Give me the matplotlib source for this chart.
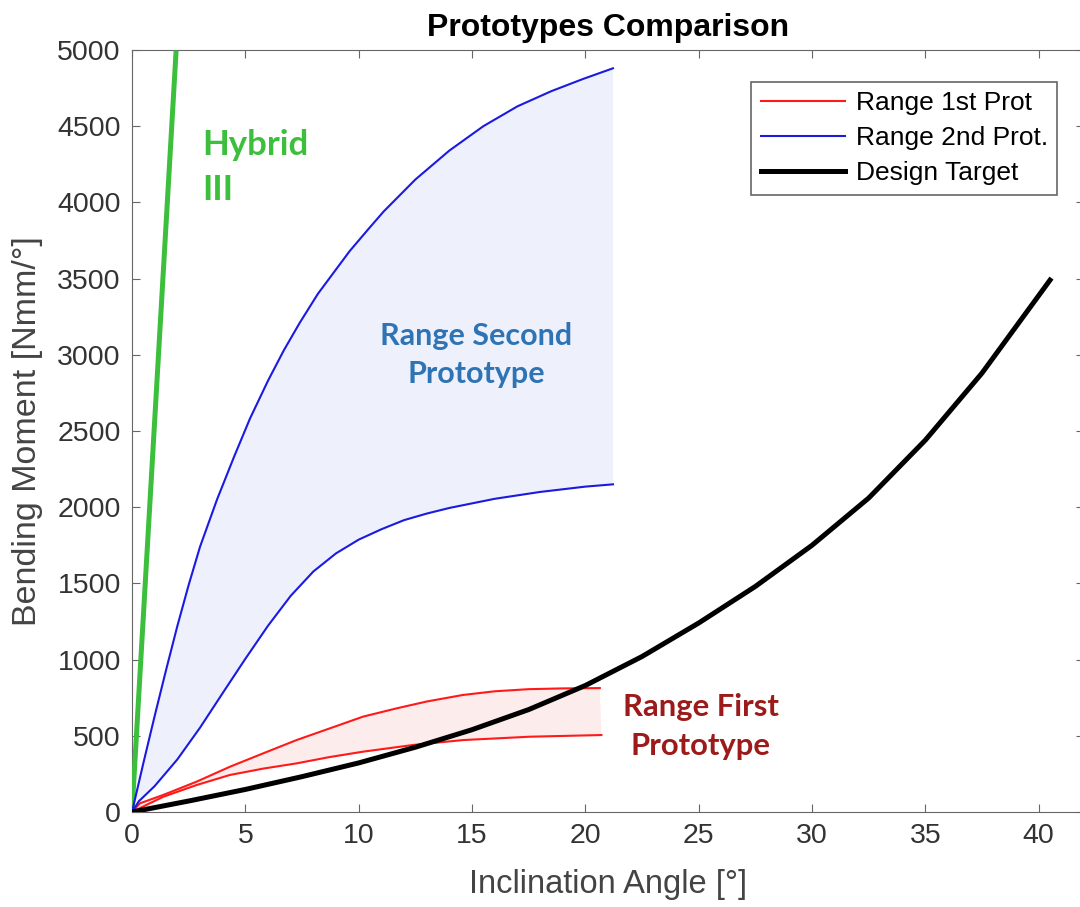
import matplotlib.pyplot as plt

plt.rcParams['font.family'] = ['Liberation Sans', 'DejaVu Sans']

# measured curves (angle in deg, moment in Nmm/deg)
hyb_x = [0, 1.94]
hyb_y = [0, 4980]

p2_hi_x = [0, 0.5, 1, 1.5, 2, 2.5, 3, 3.75, 4.5, 5.2, 6, 6.7, 7.4, 8.2, 9, 9.6, 10.4, 11.1,
           12.5, 14, 15.5, 17, 18.5, 19.9, 21.22]
p2_hi_y = [0, 320, 630, 930, 1220, 1490, 1740, 2050, 2330, 2580, 2830, 3030, 3210, 3400, 3560,
           3680, 3820, 3940, 4150, 4340, 4500, 4630, 4730, 4810, 4880]
p2_lo_x = [0, 0.3, 1, 2, 3, 4, 5, 6, 7, 8, 9, 10, 11, 12, 13, 14, 16, 18, 20, 21.22]
p2_lo_y = [0, 70, 170, 345, 553, 780, 1005, 1222, 1418, 1578, 1697, 1787, 1855, 1915, 1958,
           1995, 2055, 2100, 2135, 2150]

p1_hi_x = [0, 0.35, 1.38, 2.85, 4.32, 5.79, 7.26, 8.73, 10.2, 11.67, 13, 14.6, 16, 17.5, 19, 20.64]
p1_hi_y = [0, 57, 112, 199, 297, 385, 472, 549, 626, 680, 725, 768, 792, 806, 811, 813]
p1_lo_x = [0, 1.38, 2.85, 4.32, 5.8, 7.26, 8.7, 10.2, 12.41, 14.61, 17.55, 20.71]
p1_lo_y = [0, 100, 177, 243, 285, 319, 360, 396, 440, 472, 494, 505]

tgt_x = [0, 2.5, 5, 7.5, 10, 12.5, 15, 17.5, 20, 22.5, 25, 27.5, 30, 32.5, 35, 37.5, 40.5]
tgt_y = [0, 72, 148, 232, 322, 425, 540, 672, 830, 1020, 1240, 1480, 1750, 2060, 2440, 2880, 3490]

fig = plt.figure(figsize=(10.8, 9.07), dpi=100)
ax = fig.add_axes([132/1080, 95/907, 952/1080, 762/907])

# shaded ranges
ax.fill(p2_hi_x + p2_lo_x[::-1], p2_hi_y + p2_lo_y[::-1], color='#eef0fb', lw=0, zorder=1)
ax.fill(p1_hi_x + p1_lo_x[::-1], p1_hi_y + p1_lo_y[::-1], color='#fdecec', lw=0, zorder=1)

ax.plot(hyb_x, hyb_y, color='#3cbf3c', lw=3.6, zorder=3)
ax.plot(p1_hi_x, p1_hi_y, color='#ff1a1a', lw=1.5, zorder=3, label='Range 1st Prot')
ax.plot(p1_lo_x, p1_lo_y, color='#ff1a1a', lw=1.5, zorder=3)
ax.plot(p2_hi_x, p2_hi_y, color='#1a1ae0', lw=1.5, zorder=3, label='Range 2nd Prot.')
ax.plot(p2_lo_x, p2_lo_y, color='#1a1ae0', lw=1.5, zorder=3)
ax.plot(tgt_x, tgt_y, color='black', lw=3.6, zorder=4, label='Design Target')

ax.set_xlim(0, 42)
ax.set_ylim(0, 5000)
ax.set_xticks(range(0, 41, 5))
ax.set_yticks(range(0, 5001, 500))

for s in ax.spines.values():
    s.set_color('#666666')
ax.tick_params(direction='in', length=6, color='#666666', labelsize=20.5,
               labelcolor='#333333', top=True, right=True, pad=8)

ax.set_xlabel('Inclination Angle [°]', fontsize=23.5, color='#444444', labelpad=14)
ax.set_ylabel('Bending Moment [Nmm/°]', fontsize=24.5, color='#444444', labelpad=10)
ax.set_title('Prototypes Comparison', fontsize=23, fontweight='bold', pad=10)

leg = ax.legend(loc='upper right', bbox_to_anchor=(0.9716, 0.958), fontsize=19,
                handlelength=3.2, handletextpad=0.4, labelspacing=0.42,
                borderpad=0.35, borderaxespad=0, fancybox=False, framealpha=1,
                edgecolor='#666666')
leg.get_frame().set_linewidth(1.2)

ax.text(3.1, 4232, 'Hybrid\nIII', color='#3cbf3c', fontsize=25, fontweight='bold',
        family='Lato', ha='left', va='center', linespacing=1.5)
ax.text(15.2, 3000, 'Range Second\nPrototype', color='#2e74b5', fontsize=22,
        fontweight='bold', family='Lato', ha='center', va='center', linespacing=1.45)
ax.text(25.1, 560, 'Range First\nPrototype', color='#9c1a1a', fontsize=22.3,
        fontweight='bold', family='Lato', ha='center', va='center', linespacing=1.45)

fig.savefig('out.png', dpi=100)
